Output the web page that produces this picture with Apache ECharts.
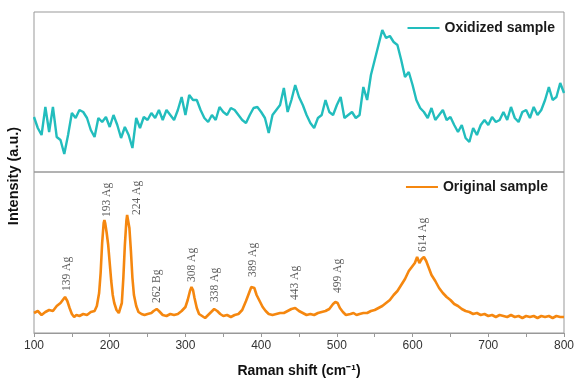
<!DOCTYPE html>
<html>
<head>
<meta charset="utf-8">
<script src="https://cdn.jsdelivr.net/npm/echarts@6/dist/echarts.min.js"></script>
<style>
html, body { margin: 0; padding: 0; background: #fff; }
#main { width: 575px; height: 378px; }
</style>
</head>
<body>
<div id="main"></div>
<script>
// Raman spectra, [shift, intensity a.u.]
var oxidized = [
  [100,55],[105,44],[110,37],[115,65],[120,40],[125,65],[130,35],[135,32],[140,18],[145,37],
  [150,59],[155,54],[160,62],[165,60],[170,54],[175,42],[180,35],[185,54],[190,50],[195,55],
  [200,45],[205,57],[210,47],[215,34],[220,45],[225,37],[230,24],[235,54],[240,44],[245,55],
  [250,52],[255,59],[260,54],[265,62],[270,52],[275,62],[280,57],[285,52],[290,62],[295,75],
  [300,57],[305,77],[310,72],[315,72],[320,62],[325,54],[330,50],[335,57],[340,52],[345,65],
  [350,60],[355,57],[360,64],[365,62],[370,57],[375,52],[380,49],[385,57],[390,64],[395,65],
  [400,60],[405,54],[410,39],[415,57],[420,62],[425,67],[430,84],[435,60],[440,72],[445,87],
  [450,75],[455,67],[460,57],[465,49],[470,44],[475,54],[480,57],[485,72],[490,60],[495,57],
  [500,67],[505,75],[510,54],[515,57],[520,60],[525,54],[530,57],[535,85],[540,72],[545,97],
  [550,112],[555,127],[560,142],[565,134],[570,136],[575,130],[580,127],[585,112],[590,95],[595,100],
  [600,87],[605,72],[610,64],[615,60],[620,54],[625,64],[630,52],[635,57],[640,62],[645,52],
  [650,55],[655,47],[660,40],[665,47],[670,34],[675,30],[680,44],[685,37],[690,47],[695,52],
  [700,47],[705,55],[710,50],[715,52],[720,60],[725,52],[730,65],[735,54],[740,50],[745,60],
  [750,62],[755,54],[760,65],[765,57],[770,62],[775,72],[780,85],[785,72],[790,75],[795,89],
  [800,79]
];

var original = [
  [100,20],[105,22],[110,18],[115,21],[120,23],[125,22],[130,27],[135,30],[138,33],[141,36],
  [144,32],[147,25],[150,19],[153,16],[156,18],[160,17],[165,19],[170,18],[175,21],[180,22],
  [183,27],[186,40],[188,60],[190,90],[192,110],[193,113],[194,110],[196,100],[198,88],[200,70],
  [202,52],[204,38],[206,30],[209,23],[212,20],[214,21],[216,30],[218,55],[220,88],[222,112],
  [223,118],[224,116],[226,105],[228,82],[230,55],[232,38],[235,27],[238,21],[242,19],[246,18],
  [250,19],[255,20],[258,22],[262,24],[265,22],[270,18],[275,17],[280,19],[285,18],[290,19],
  [295,22],[300,26],[303,33],[306,42],[308,46],[310,43],[312,35],[315,25],[318,19],[322,17],
  [326,15],[330,18],[334,21],[338,24],[342,22],[346,19],[350,17],[355,18],[360,16],[365,18],
  [370,19],[375,23],[380,32],[384,40],[387,46],[389,48],[391,45],[394,38],[398,32],[402,26],
  [406,22],[410,19],[415,18],[420,19],[425,20],[430,20],[435,22],[440,24],[445,25],[450,22],
  [455,20],[460,18],[465,19],[470,18],[475,20],[480,21],[485,22],[490,24],[495,29],[498,31],
  [501,30],[504,25],[508,21],[512,18],[518,19],[522,20],[526,18],[530,19],[535,20],[540,20],
  [545,22],[550,23],[555,25],[560,27],[565,30],[570,33],[575,38],[580,42],[585,48],[590,54],
  [595,62],[600,67],[603,70],[606,76],[609,70],[612,74],[615,76],[618,72],[621,66],[625,58],
  [630,52],[635,45],[640,40],[645,36],[650,33],[655,29],[660,27],[665,24],[670,22],[675,21],
  [680,19],[685,20],[690,18],[695,19],[700,17],[705,18],[710,16],[715,18],[720,17],[725,16],
  [730,18],[735,16],[740,17],[745,15],[750,17],[755,16],[760,17],[765,15],[770,17],[775,16],
  [780,17],[785,15],[790,17],[795,16],[800,16]
];

// peak assignments: text, shift where drawn, intensity at text foot
var peakNames = ['139 Ag','193 Ag','224 Ag','262 Bg','308 Ag','338 Ag','389 Ag','443 Ag','499 Ag','614 Ag'];
var peakX = [143, 196, 236, 262, 308, 339, 389, 445, 502, 614];
var peakY = [42, 116, 118, 30, 51, 31, 56, 33, 40, 81];

var xTicks = [100, 200, 300, 400, 500, 600, 700, 800];

var TEAL = '#22bdbd';
var ORANGE = '#f5870f';

var peakData = [];
for (var i = 0; i < peakNames.length; i++) {
    peakData.push({ value: [peakX[i], peakY[i]], name: peakNames[i] });
}

var legendText = { fontFamily: 'Liberation Sans', fontWeight: 'bold', fontSize: 14, color: '#1a1a1a' };

var chart = echarts.init(document.getElementById('main'));

var option = {
    animation: false,
    grid: [
        { left: 34, right: 11, top: 12, height: 160, show: true, borderColor: '#999', borderWidth: 1, outerBoundsMode: 'none' },
        { left: 34, right: 11, top: 172, height: 161, show: true, borderColor: '#999', borderWidth: 1, outerBoundsMode: 'none' }
    ],
    legend: [
        {
            data: [{ name: 'Oxidized sample', icon: 'rect' }], right: 15, top: 16,
            itemWidth: 32, itemHeight: 2, itemGap: 8, textStyle: legendText
        },
        {
            data: [{ name: 'Original sample', icon: 'rect' }], right: 22, top: 175,
            itemWidth: 32, itemHeight: 2, itemGap: 8, textStyle: legendText
        }
    ],
    xAxis: [
        {
            gridIndex: 0, type: 'value', min: 100, max: 800,
            axisLine: { show: false }, axisTick: { show: false }, axisLabel: { show: false },
            splitLine: { show: false }
        },
        {
            gridIndex: 1, type: 'value', min: 100, max: 800, interval: 100,
            name: 'Raman shift (cm⁻¹)', nameLocation: 'middle', nameGap: 31,
            nameTextStyle: { fontFamily: 'Liberation Sans', fontWeight: 'bold', fontSize: 14, color: '#111' },
            axisLine: { show: true, lineStyle: { color: '#999' } },
            axisTick: { show: true, length: 4, lineStyle: { color: '#999' } },
            minorTick: { show: true, splitNumber: 2, length: 4, lineStyle: { color: '#999' } },
            axisLabel: {
                fontFamily: 'Liberation Sans', fontSize: 12, color: '#333', margin: 7,
                formatter: function (v) { return xTicks.indexOf(v) >= 0 ? String(v) : ''; }
            },
            splitLine: { show: false }
        }
    ],
    yAxis: [
        {
            gridIndex: 0, type: 'value', min: 0, max: 160,
            axisLine: { show: false }, axisTick: { show: false }, axisLabel: { show: false },
            splitLine: { show: false }
        },
        {
            gridIndex: 1, type: 'value', min: 0, max: 161,
            axisLine: { show: false }, axisTick: { show: false }, axisLabel: { show: false },
            splitLine: { show: false }
        }
    ],
    graphic: [
        {
            type: 'text', rotation: Math.PI / 2, x: 14, y: 176,
            style: {
                text: 'Intensity (a.u.)', fontFamily: 'Liberation Sans', fontWeight: 'bold',
                fontSize: 14.5, fill: '#111', textAlign: 'center', textVerticalAlign: 'middle'
            }
        }
    ],
    series: [
        {
            name: 'Oxidized sample', type: 'line', xAxisIndex: 0, yAxisIndex: 0,
            data: oxidized, symbol: 'none', lineStyle: { color: TEAL, width: 2.4 },
            itemStyle: { color: TEAL }
        },
        {
            name: 'Original sample', type: 'line', xAxisIndex: 1, yAxisIndex: 1,
            data: original, symbol: 'none', lineStyle: { color: ORANGE, width: 2.6 },
            itemStyle: { color: ORANGE }
        },
        {
            name: 'peaks', type: 'scatter', xAxisIndex: 1, yAxisIndex: 1,
            data: peakData, symbolSize: 0, silent: true,
            label: {
                show: true, position: 'inside', rotate: 90, align: 'left', verticalAlign: 'middle',
                formatter: '{b}', fontFamily: 'Liberation Serif', fontSize: 11.5, color: '#333'
            }
        }
    ]
};

chart.setOption(option);
</script>
</body>
</html>
